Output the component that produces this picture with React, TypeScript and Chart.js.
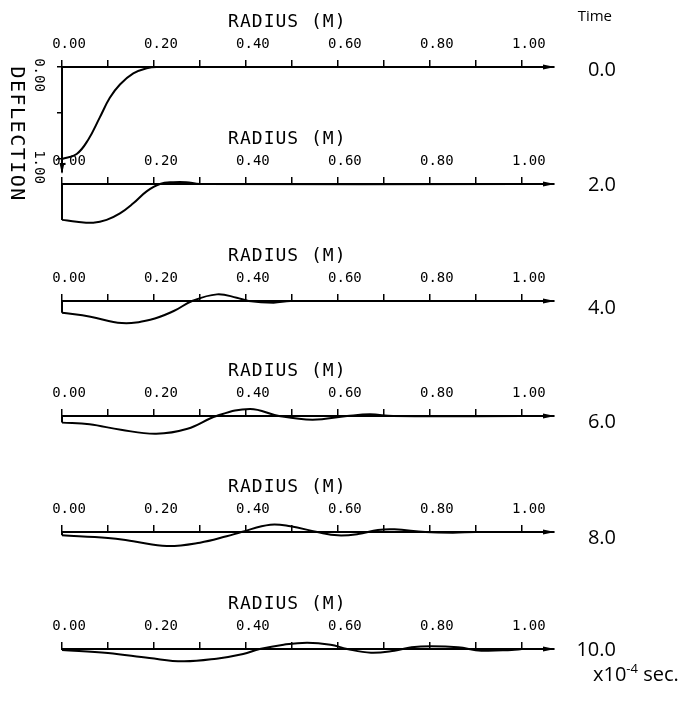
import React, { useEffect, useRef } from "react";
import { Chart, registerables } from "chart.js";

Chart.register(...registerables);

// ---- data ----
const TIME_LABELS = ["0.0", "2.0", "4.0", "6.0", "8.0", "10.0"];
const TIME_UNIT = "x10";
const TIME_EXP = "-4";
const TIME_UNIT_TAIL = " sec.";

const RADIUS_TICKS = [0, 0.1, 0.2, 0.3, 0.4, 0.5, 0.6, 0.7, 0.8, 0.9, 1.0];
const RADIUS_TICK_LABELS = ["0.00", "", "0.20", "", "0.40", "", "0.60", "", "0.80", "", "1.00"];
const RADIUS_AXIS_END = 1.07;
const DEFLECTION_TICKS = [0, 0.5, 1.0];
const DEFLECTION_TICK_LABELS = ["0.00", "", "1.00"];

// t = 0.0
const R_T0 = [0, 0.032, 0.057, 0.082, 0.104, 0.126, 0.155, 0.184, 0.206, 1.0];
const D_T0 = [1.0, 0.945, 0.79, 0.55, 0.335, 0.19, 0.07, 0.015, 0, 0];
// t = 2.0
const R_T1 = [0, 0.032, 0.068, 0.097, 0.126, 0.155, 0.184, 0.213, 0.242, 0.27, 0.3, 1.0];
const D_T1 = [0.39, 0.41, 0.42, 0.39, 0.32, 0.21, 0.08, 0, -0.02, -0.02, 0, 0];
// t = 4.0
const R_T2 = [0, 0.062, 0.13, 0.192, 0.243, 0.283, 0.337, 0.38, 0.406, 0.46, 0.497, 1.0];
const D_T2 = [0.127, 0.17, 0.24, 0.203, 0.109, 0, -0.072, -0.036, 0, 0.018, 0, 0];
// t = 6.0
const R_T3 = [0, 0.06, 0.128, 0.205, 0.273, 0.336, 0.409, 0.472, 0.545, 0.62, 0.67, 0.72, 1.0];
const D_T3 = [0.072, 0.09, 0.15, 0.192, 0.138, 0, -0.076, 0, 0.04, 0, -0.018, 0, 0];
// t = 8.0
const R_T4 = [0, 0.1, 0.155, 0.228, 0.3, 0.358, 0.39, 0.453, 0.497, 0.555, 0.6, 0.644, 0.687, 0.723, 0.79, 0.85, 0.9, 1.0];
const D_T4 = [0.036, 0.065, 0.1, 0.152, 0.116, 0.047, 0, -0.08, -0.062, 0, 0.036, 0.022, -0.022, -0.029, 0, 0.007, 0, 0];
// t = 10.0
const R_T5 = [0, 0.1, 0.19, 0.263, 0.336, 0.394, 0.43, 0.482, 0.533, 0.584, 0.62, 0.672, 0.723, 0.76, 0.803, 0.861, 0.912, 0.978, 1.0];
const D_T5 = [0.01, 0.043, 0.098, 0.134, 0.105, 0.054, 0, -0.047, -0.069, -0.047, 0, 0.04, 0.018, -0.018, -0.029, -0.018, 0.018, 0.01, 0];

const RADII = [R_T0, R_T1, R_T2, R_T3, R_T4, R_T5];
const DEFLECTIONS = [D_T0, D_T1, D_T2, D_T3, D_T4, D_T5];

// ---- layout ----
const AXIS_Y = [67, 184, 300.7, 416, 532.3, 648.5];
const AREA_H = [105, 46, 46, 46, 46, 46];
const BOTTOM_PAD = [40, 4, 4, 4, 4, 4];
const TIME_CENTER_Y = [70, 185, 308, 422, 538, 650];
const PX_PER_UNIT = 92;
const TOP_BAND = 62;
const MONO = '"DejaVu Sans Mono", monospace';
const SANS = '"Open Sans", "Noto Sans", sans-serif';

function makeDecor(index: number) {
  return {
    id: "decor" + index,
    afterDraw(chart: any) {
      const { ctx } = chart;
      const x = chart.scales.x;
      const y = chart.scales.y;
      const yA = y.getPixelForValue(0);
      const xEnd = x.getPixelForValue(x.max);
      ctx.save();
      ctx.fillStyle = "#000";
      // arrow head on radius axis
      ctx.beginPath();
      ctx.moveTo(xEnd + 1, yA);
      ctx.lineTo(xEnd - 11, yA - 2.5);
      ctx.lineTo(xEnd - 11, yA + 2.5);
      ctx.closePath();
      ctx.fill();
      // axis title
      ctx.font = "18px " + MONO;
      try { (ctx as any).letterSpacing = "1px"; } catch (e) {}
      ctx.textAlign = "center";
      ctx.textBaseline = "middle";
      ctx.fillText("RADIUS (M)", x.getPixelForValue(0.49), yA - 45);
      if (index === 0) {
        const x0 = x.getPixelForValue(0);
        const yEnd = y.getPixelForValue(y.max);
        ctx.beginPath();
        ctx.moveTo(x0, yEnd + 2);
        ctx.lineTo(x0 - 2.5, yEnd - 9);
        ctx.lineTo(x0 + 2.5, yEnd - 9);
        ctx.closePath();
        ctx.fill();
        try { (ctx as any).letterSpacing = "0px"; } catch (e) {}
        ctx.font = "14px " + MONO;
        DEFLECTION_TICKS.forEach((v, k) => {
          const lab = DEFLECTION_TICK_LABELS[k];
          if (!lab) return;
          ctx.save();
          ctx.translate(x0 - 23, y.getPixelForValue(v) + 8);
          ctx.rotate(Math.PI / 2);
          ctx.fillText(lab, 0, 0);
          ctx.restore();
        });
        ctx.font = "20px " + MONO;
        try { (ctx as any).letterSpacing = "1.5px"; } catch (e) {}
        ctx.save();
        ctx.translate(16, y.getPixelForValue(0.73));
        ctx.rotate(Math.PI / 2);
        ctx.fillText("DEFLECTION", 0, 0);
        ctx.restore();
      }
      ctx.restore();
    },
  };
}

function Panel({ index }: { index: number }) {
  const ref = useRef<HTMLCanvasElement>(null);
  const areaH = AREA_H[index];
  const bottomPad = BOTTOM_PAD[index];
  const height = TOP_BAND + areaH + bottomPad;
  const top = AXIS_Y[index] - TOP_BAND;
  useEffect(() => {
    const canvas = ref.current;
    if (!canvas) return;
    const first = index === 0;
    const r = RADII[index];
    const d = DEFLECTIONS[index];
    const datasets: any[] = [
      {
        data: r.map((v, k) => ({ x: v, y: d[k] })),
        borderColor: "#000",
        borderWidth: 2,
        pointRadius: 0,
        tension: 0.4,
        clip: false,
        fill: false,
      },
    ];
    if (!first) {
      datasets.push({
        data: [
          { x: r[0], y: 0 },
          { x: r[0], y: d[0] },
        ],
        borderColor: "#000",
        borderWidth: 2,
        pointRadius: 0,
        tension: 0,
        clip: false,
        fill: false,
      });
    }
    const chart = new Chart(canvas, {
      type: "line",
      data: { datasets },
      options: {
        animation: false,
        responsive: false,
        events: [],
        layout: { padding: { left: 52, right: 146, top: 0, bottom: bottomPad } },
        plugins: { legend: { display: false }, tooltip: { enabled: false } },
        scales: {
          x: {
            type: "linear",
            position: "top",
            min: 0,
            max: RADIUS_AXIS_END,
            afterFit: (s: any) => {
              s.height = TOP_BAND;
            },
            afterBuildTicks: (s: any) => {
              s.ticks = RADIUS_TICKS.map((v) => ({ value: v }));
            },
            ticks: {
              autoSkip: false,
              maxRotation: 0,
              minRotation: 0,
              padding: 7,
              labelOffset: 7,
              color: "#000",
              font: { family: MONO, size: 14 },
              callback: (_v: any, k: number) => RADIUS_TICK_LABELS[k],
            },
            grid: {
              drawOnChartArea: false,
              drawTicks: true,
              tickLength: 7,
              color: "#000",
              lineWidth: 1.5,
            },
            border: { display: true, color: "#000", width: 2 },
          },
          y: {
            type: "linear",
            position: "left",
            reverse: true,
            min: 0,
            max: areaH / PX_PER_UNIT,
            afterFit: (s: any) => {
              s.width = 10;
            },
            afterBuildTicks: (s: any) => {
              s.ticks = DEFLECTION_TICKS.map((v) => ({ value: v }));
            },
            ticks: { display: false },
            grid: {
              display: first,
              drawOnChartArea: false,
              tickLength: 5,
              color: "#000",
              lineWidth: 1.5,
            },
            border: { display: first, color: "#000", width: 2 },
          },
        },
      } as any,
      plugins: [makeDecor(index)],
    });
    return () => chart.destroy();
  }, [index]);
  return (
    <canvas
      ref={ref}
      width={700}
      height={height}
      style={{ position: "absolute", left: 0, top, width: 700, height }}
    />
  );
}

export default function App() {
  return (
    <div
      style={{
        position: "absolute",
        left: 0,
        top: 0,
        width: 700,
        height: 707,
        background: "#fff",
        overflow: "hidden",
      }}
    >
      {TIME_LABELS.map((_, i) => (
        <Panel key={i} index={i} />
      ))}
      <div
        style={{
          position: "absolute",
          left: 540,
          width: 72,
          top: 5,
          textAlign: "right",
          fontFamily: SANS,
          fontSize: 15,
          lineHeight: "20px",
          color: "#000",
        }}
      >
        Time
      </div>
      {TIME_LABELS.map((t, i) => (
        <div
          key={t}
          style={{
            position: "absolute",
            left: 540,
            width: 76,
            top: TIME_CENTER_Y[i] - 11,
            textAlign: "right",
            fontFamily: SANS,
            fontSize: 20,
            lineHeight: "20px",
            color: "#000",
          }}
        >
          {t}
        </div>
      ))}
      <div
        style={{
          position: "absolute",
          left: 593,
          top: 664,
          fontFamily: SANS,
          fontSize: 20,
          lineHeight: "20px",
          color: "#000",
          whiteSpace: "nowrap",
        }}
      >
        {TIME_UNIT}
        <span style={{ fontSize: 13, verticalAlign: "super", lineHeight: 0 }}>{TIME_EXP}</span>
        {TIME_UNIT_TAIL}
      </div>
    </div>
  );
}
